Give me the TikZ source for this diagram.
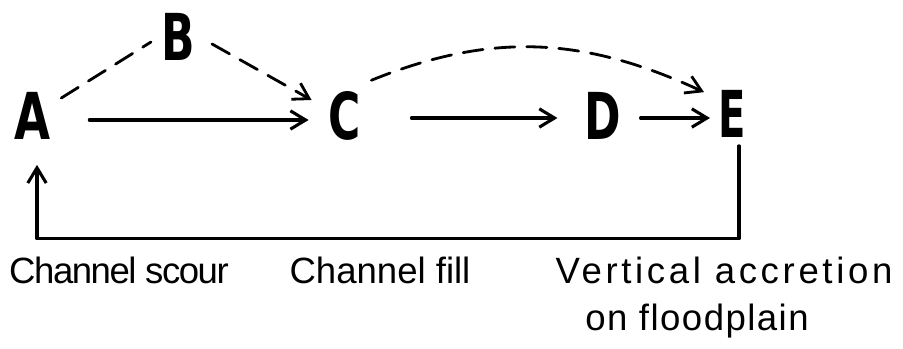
\documentclass[tikz,border=0pt]{standalone}
\usepackage{fontspec}
\usepackage{graphicx}
\setmainfont{Liberation Sans}
\newfontfamily\stagefont{DejaVu Sans}
\usetikzlibrary{arrows.meta}

\begin{document}
\begin{tikzpicture}[
  x=0.025cm,
  y=-0.025cm,
  line cap=round,
  line join=round,
  stage/.style={inner sep=0pt, font=\stagefont\fontsize{46}{46}\selectfont\bfseries},
  flow/.style={line width=2.2pt, -{Straight Barb[length=0.38cm,width=0.46cm]}},
  link/.style={line width=2pt, dash pattern=on 0.5cm off 0.3cm},
  linkflow/.style={link, -{Straight Barb[length=0.38cm,width=0.46cm]}},
  note/.style={anchor=base, inner sep=0pt,
    font=\fontsize{26}{26}\selectfont\addfontfeature{LetterSpace=#1}},
  note/.default=0
]
  \useasboundingbox (0,0) rectangle (903,349);

  % Stages
  \node[stage] (A) at (33,116) {\scalebox{0.72}[1]{A}};
  \node[stage] (B) at (178,37) {\scalebox{0.68}[1]{B}};
  \node[stage] (C) at (345,116) {\scalebox{0.68}[1]{C}};
  \node[stage] (D) at (603,116) {\scalebox{0.68}[1]{D}};
  \node[stage] (E) at (732,114) {\scalebox{0.62}[1]{E}};

  % Main sequence
  \draw[flow] ([shift={(38,4)}]A.east) -- ([shift={(-20,4)}]C.west);
  \draw[flow] ([shift={(50,2)}]C.east) -- ([shift={(-27,2)}]D.west);
  \draw[flow] ([shift={(19,2)}]D.east) -- ([shift={(-8,4)}]E.west);

  % Side paths
  \draw[link] ([shift={(10,-18)}]A.east) -- ([shift={(-10,5)}]B.west);
  \draw[linkflow] ([shift={(17,7)}]B.east) -- ([shift={(-17,-16)}]C.west);
  \draw[linkflow] ([shift={(10,-11)}]C.north east)
    .. controls +(121,-49) and +(-119,-55) .. ([shift={(-14,2)}]E.north west);

  % Return
  \draw[flow] ([shift={(7,8)}]E.south) -- ++(0,93) -| ([shift={(4,25)}]A.south);

  % Labels
  \node[note=-4] (scour) at (119,283) {Channel scour};
  \node[note] (fill) at (380,283) {Channel fill};
  \node[note=10] (accr) at (724,283) {Vertical accretion};
  \node[note=4] (flood) at (697,330) {on floodplain};
\end{tikzpicture}
\end{document}
